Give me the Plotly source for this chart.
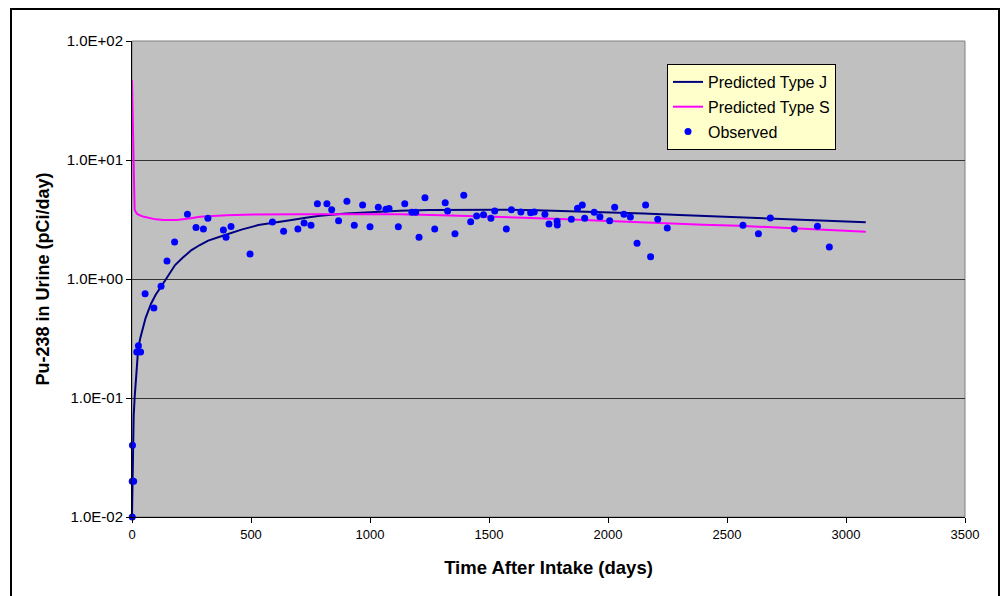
import plotly.graph_objects as go

# Observed urine bioassay results (days after intake, pCi/day)
obs_days = [1, 1, 7, 2, 20, 27, 36, 55, 92, 122, 147, 179, 233, 269, 300, 319,
            384, 395, 416, 496, 590, 637, 697, 723, 752, 779, 819, 839, 868,
            903, 934, 969, 1000, 1035, 1067, 1080, 1119, 1146, 1176, 1192,
            1206, 1231, 1272, 1316, 1326, 1357, 1394, 1423, 1448, 1477, 1508,
            1524, 1573, 1594, 1634, 1675, 1690, 1735, 1752, 1786, 1787, 1846,
            1872, 1892, 1902, 1942, 1966, 2007, 2028, 2067, 2094, 2122, 2158,
            2179, 2209, 2249, 2567, 2632, 2682, 2783, 2880, 2930]
obs_values = [0.01, 0.02, 0.02, 0.04, 0.243, 0.275, 0.243, 0.75, 0.57, 0.87,
              1.42, 2.05, 3.5, 2.71, 2.63, 3.24, 2.58, 2.24, 2.76, 1.62, 3.01,
              2.52, 2.63, 2.95, 2.83, 4.29, 4.29, 3.82, 3.09, 4.5, 2.83, 4.19,
              2.75, 4.0, 3.85, 3.92, 2.75, 4.29, 3.64, 3.64, 2.24, 4.82, 2.63,
              4.38, 3.73, 2.4, 5.05, 3.03, 3.38, 3.47, 3.24, 3.73, 2.63, 3.82,
              3.66, 3.6, 3.66, 3.5, 2.9, 3.05, 2.84, 3.18, 3.93, 4.19, 3.24,
              3.64, 3.34, 3.09, 4.0, 3.5, 3.32, 2.0, 4.19, 1.54, 3.18, 2.68,
              2.83, 2.4, 3.25, 2.63, 2.77, 1.86]

# Model prediction, Type J
j_days = [0, 3, 7, 11, 17, 26, 35, 45, 57, 80, 100, 122, 150, 181, 215, 250,
          285, 320, 391, 460, 531, 600, 671, 730, 790, 900, 1000, 1126, 1250,
          1400, 1550, 1700, 1850, 2000, 2150, 2300, 2450, 2600, 2750, 2900, 3083]
j_values = [0.01, 0.034, 0.07, 0.1, 0.15, 0.26, 0.32, 0.38, 0.47, 0.62, 0.74,
            0.86, 1.05, 1.31, 1.52, 1.75, 1.93, 2.1, 2.34, 2.6, 2.84, 3.0,
            3.13, 3.27, 3.4, 3.55, 3.65, 3.75, 3.8, 3.82, 3.82, 3.78, 3.72,
            3.66, 3.55, 3.45, 3.35, 3.27, 3.17, 3.08, 3.0]

# Model prediction, Type S
s_days = [0, 2, 5, 8, 11, 20, 30, 50, 76, 100, 132, 188, 240, 286, 398, 508,
          700, 900, 1126, 1300, 1450, 1650, 1800, 1950, 2100, 2250, 2400,
          2550, 2700, 2850, 3000, 3083]
s_values = [47, 25, 10, 5, 3.8, 3.55, 3.45, 3.33, 3.23, 3.17, 3.13, 3.13,
            3.22, 3.34, 3.43, 3.48, 3.5, 3.5, 3.5, 3.44, 3.38, 3.3, 3.2, 3.1,
            3.0, 2.93, 2.85, 2.8, 2.72, 2.64, 2.55, 2.5]

y_tickvals = [0.01, 0.1, 1, 10, 100]
y_ticktext = ["1.0E-02", "1.0E-01", "1.0E+00", "1.0E+01", "1.0E+02"]
x_tickvals = [0, 500, 1000, 1500, 2000, 2500, 3000, 3500]

W, H = 1000, 596
L, R, T, B = 132, 965, 41, 517  # plot area edges in pixels

def px_x(p):
    return (p - L) / (R - L)

def px_y(p):
    return (B - p) / (B - T)

fig = go.Figure()
fig.add_trace(go.Scatter(
    x=j_days, y=j_values, mode="lines", name="Predicted Type J",
    line=dict(color="#000080", width=2), legendgroup="a"))
fig.add_trace(go.Scatter(
    x=s_days, y=s_values, mode="lines", name="Predicted Type S",
    line=dict(color="#FF00FF", width=2), legendgroup="b"))
fig.add_trace(go.Scatter(
    x=obs_days, y=obs_values, mode="markers", name="Observed",
    marker=dict(color="#0000FF", size=7), cliponaxis=False, legendgroup="c"))

font = "Liberation Sans, Arial, sans-serif"

fig.update_layout(
    width=W, height=H,
    margin=dict(l=L, r=W - R, t=T, b=H - B),
    paper_bgcolor="white",
    plot_bgcolor="#C0C0C0",
    font=dict(family=font, color="black"),
    showlegend=True,
    legend=dict(
        x=px_x(667), y=px_y(64), xanchor="left", yanchor="top",
        bgcolor="#FFFFCC", bordercolor="black", borderwidth=1,
        font=dict(size=16, family=font), tracegroupgap=1,
        traceorder="grouped"),
    xaxis=dict(
        range=[0, 3500], tickvals=x_tickvals, ticks="outside", ticklen=5,
        tickcolor="black", showline=True, linecolor="black", linewidth=1,
        showgrid=False, zeroline=False, tickfont=dict(size=13),
        title=dict(text="<b>Time After Intake (days)</b>",
                   font=dict(size=18.5), standoff=20)),
    yaxis=dict(
        type="log", range=[-2, 2], tickvals=y_tickvals, ticktext=y_ticktext,
        ticks="outside", ticklen=5, tickcolor="black", showline=True,
        linecolor="black", linewidth=1, showgrid=True, gridcolor="#333333",
        gridwidth=1, zeroline=False, tickfont=dict(size=15),
        title=dict(text="<b>Pu-238 in Urine (pCi/day)</b>",
                   font=dict(size=18), standoff=12)),
    shapes=[
        # plot area border
        dict(type="rect", xref="paper", yref="paper", x0=0, x1=1, y0=0, y1=1,
             line=dict(color="#808080", width=1), layer="below"),
        # chart frame
        dict(type="rect", xref="paper", yref="paper",
             x0=px_x(11), x1=px_x(999), y0=px_y(620), y1=px_y(9),
             line=dict(color="black", width=2)),
    ],
)

fig.write_html("out.html")
